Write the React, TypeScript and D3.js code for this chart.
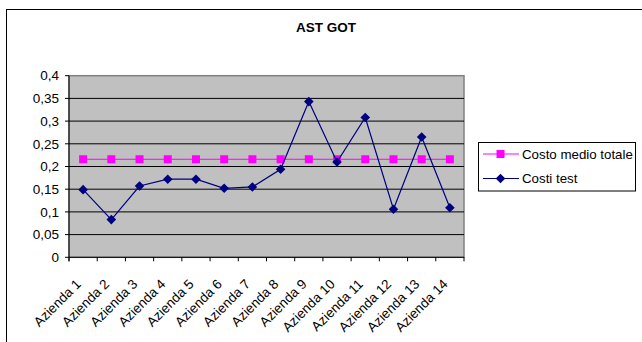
import React from "react";
import * as d3 from "d3";

const categories = ["Azienda 1","Azienda 2","Azienda 3","Azienda 4","Azienda 5","Azienda 6","Azienda 7","Azienda 8","Azienda 9","Azienda 10","Azienda 11","Azienda 12","Azienda 13","Azienda 14"];
const costoMedio = [0.216,0.216,0.216,0.216,0.216,0.216,0.216,0.216,0.216,0.216,0.216,0.216,0.216,0.216];
const costiTest = [0.149,0.083,0.157,0.172,0.172,0.152,0.155,0.194,0.343,0.210,0.308,0.106,0.265,0.109];
const yTicks = [0,0.05,0.1,0.15,0.2,0.25,0.3,0.35,0.4];
const yTickLabels = ["0","0,05","0,1","0,15","0,2","0,25","0,3","0,35","0,4"];
const seriesNames = ["Costo medio totale","Costi test"];

export default function App() {
  const W = 642, H = 342;
  const L = 69, R = 464, T = 75.7, B = 257.3;
  const x = d3.scaleBand<string>().domain(categories).range([L, R]);
  const y = d3.scaleLinear().domain([0, 0.4]).range([B, T]);
  const cx = (c: string) => (x(c) as number) + x.bandwidth() / 2;
  const line = d3.line<number>().x((_, i) => cx(categories[i])).y((v) => y(v));
  const font = "'Liberation Sans', Arial, sans-serif";
  const diamond = (px: number, py: number, s = 4.8) =>
    `M${px},${py - s}L${px + s},${py}L${px},${py + s}L${px - s},${py}Z`;
  const boundaries = d3.range(categories.length + 1).map((i) => L + i * x.step());
  return (
    <svg width={W} height={H} style={{ position: "absolute", left: 0, top: 0 }}>
      <rect x={0} y={0} width={W} height={H} fill="#fff" />
      <rect x={6.5} y={9.5} width={W + 10} height={H + 10} fill="#fff" stroke="#000" strokeWidth={1} />
      <text x={326} y={31.5} textAnchor="middle" fontFamily={font} fontWeight="bold" fontSize={13.5}>AST GOT</text>
      <rect x={L} y={T} width={R - L} height={B - T} fill="#C0C0C0" stroke="#808080" strokeWidth={1.5} />
      {yTicks.slice(1, -1).map((t) => (
        <line key={t} x1={L} x2={R} y1={y(t)} y2={y(t)} stroke="#000" strokeWidth={1} />
      ))}
      <line x1={L} x2={L} y1={T} y2={B + 4} stroke="#000" />
      <line x1={L} x2={R} y1={B} y2={B} stroke="#000" />
      {yTicks.map((t, i) => (
        <g key={t}>
          <line x1={L - 4} x2={L} y1={y(t)} y2={y(t)} stroke="#000" />
          <text x={L - 10} y={y(t)} dy="0.35em" textAnchor="end" fontFamily={font} fontSize={13.5}>{yTickLabels[i]}</text>
        </g>
      ))}
      {boundaries.map((bx, i) => (
        <line key={i} x1={bx} x2={bx} y1={B} y2={B + 4} stroke="#000" />
      ))}
      {categories.map((c) => (
        <text key={c} transform={`translate(${cx(c) - 8},${B + 21}) rotate(-45)`} textAnchor="end" dy="0.7em" fontFamily={font} fontSize={13.5}>{c}</text>
      ))}
      <path d={line(costoMedio) as string} fill="none" stroke="#FF00FF" strokeWidth={1.2} />
      {costoMedio.map((v, i) => (
        <rect key={i} x={cx(categories[i]) - 4} y={y(v) - 4} width={8} height={8} fill="#FF00FF" />
      ))}
      <path d={line(costiTest) as string} fill="none" stroke="#000080" strokeWidth={1.2} />
      {costiTest.map((v, i) => (
        <path key={i} d={diamond(cx(categories[i]), y(v))} fill="#000080" />
      ))}
      <rect x={478.5} y={142.5} width={157} height={48.5} fill="#fff" stroke="#000" strokeWidth={1} />
      <line x1={483} x2={519} y1={154} y2={154} stroke="#FF00FF" strokeWidth={1.2} />
      <rect x={496.5} y={150} width={8} height={8} fill="#FF00FF" />
      <text x={522} y={154} dy="0.35em" fontFamily={font} fontSize={13.3}>{seriesNames[0]}</text>
      <line x1={483} x2={519} y1={178.5} y2={178.5} stroke="#000080" strokeWidth={1.2} />
      <path d={diamond(500.5, 178.5)} fill="#000080" />
      <text x={522} y={178.5} dy="0.35em" fontFamily={font} fontSize={13.3}>{seriesNames[1]}</text>
    </svg>
  );
}
